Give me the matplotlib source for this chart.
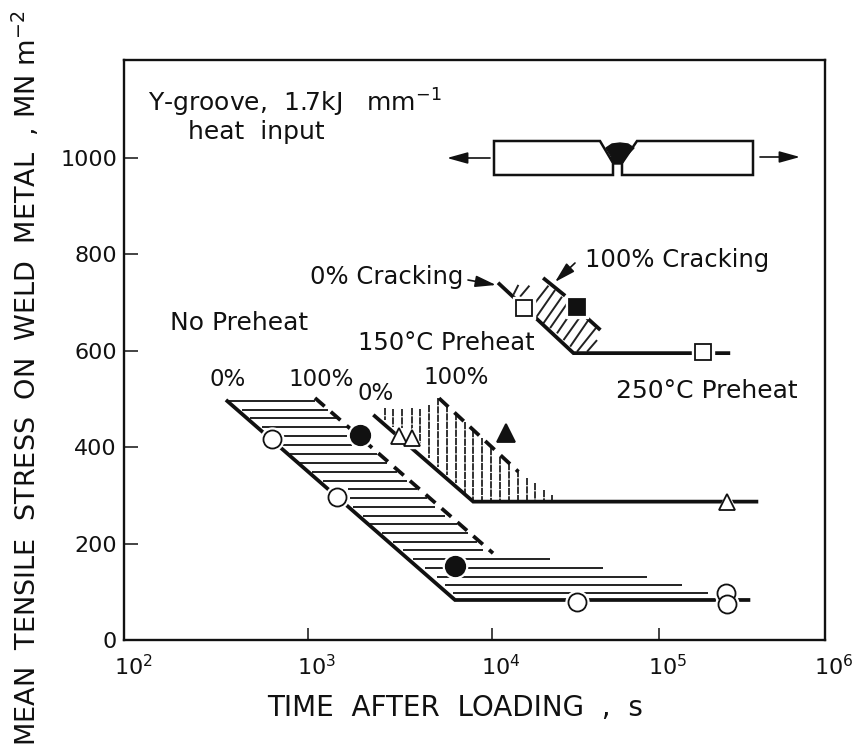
import numpy as np
import matplotlib
matplotlib.use('Agg')
from matplotlib import pyplot as plt
from matplotlib.transforms import Affine2D, ScaledTranslation
from matplotlib.patches import Polygon

# the printed decades are not equally wide, so the axis has its own spacing
decade_log = [2, 3, 4, 5, 6]
decade_pos = [0, 184, 368, 535, 701]
x_ticks = [1e2, 1e3, 1e4, 1e5, 1e6]
x_tick_labels = ['10$^{2}$', '10$^{3}$', '10$^{4}$', '10$^{5}$', '10$^{6}$']
y_ticks = [0, 200, 400, 600, 800, 1000]

# boundaries, log10(time) and stress
none_0_t = [2.554, 3.799, 5.550]
none_0_s = [498, 83, 83]
none_100_t = [3.038, 4.006]
none_100_s = [502, 180]
p150_0_t = [3.355, 3.898, 5.598]
p150_0_s = [467, 287, 287]
p150_100_t = [3.712, 4.158]
p150_100_s = [501.5, 349]
p250_0_t = [4.036, 4.488, 5.429]
p250_0_s = [741, 595, 595]
p250_100a_t = [4.306, 4.438]
p250_100a_s = [751, 714]
p250_100b_t = [4.569, 4.649]
p250_100b_s = [668, 643]

# horizontal hatching, no preheat
h_s = [496.5, 477, 460, 441, 423, 404, 386, 367, 349, 330.5, 313, 295, 276.5, 258, 240, 222.5, 204, 187,
       168, 150, 131, 114, 97]
h_t0 = [2.558, 2.640, 2.685, 2.748, 2.857, 2.857, 2.902, 2.957, 3.020, 3.083, 3.219, 3.228, 3.246, 3.301,
        3.337, 3.401, 3.464, 3.518, 3.572, 3.636, 3.700, 3.745, 3.788]
h_t1 = [3.038, 3.110, 3.156, 3.210, 3.210, 3.238, 3.373, 3.428, 3.482, 3.536, 3.591, 3.645, 3.690, 3.745,
        3.809, 3.870, 3.918, 3.952, 4.348, 4.667, 4.931, 5.141, 5.297]

# vertical hatching, 150 C
v_t = [3.418, 3.464, 3.513, 3.564, 3.609, 3.658, 3.708, 3.754, 3.803, 3.853, 3.898, 3.944, 3.995, 4.048,
       4.102, 4.154, 4.208, 4.258, 4.312, 4.362]
v_top = [480.7, 478.6, 478.6, 480.7, 478.6, 487.6, 501.4, 487.6, 470, 453, 435.7, 418, 397.7, 380, 366.5,
         352.7, 335.4, 325, 311, 301]
v_bot = [456.4, 441, 439, 435.7, 397.7, 377, 359.6, 342, 325, 304, 287, 287, 287, 287, 287, 287, 287, 287,
         287, 287]

# slanted hatching, 250 C
d_t0 = [4.128, 4.168, 4.248, 4.268, 4.308, 4.348, 4.389, 4.428, 4.468, 4.509, 4.569]
d_s0 = [716, 712, 695, 671, 657, 647, 636, 622, 608.5, 598, 598]
d_t1 = [4.158, 4.224, 4.338, 4.378, 4.419, 4.458, 4.458, 4.529, 4.578, 4.629, 4.629]
d_s1 = [736.5, 735, 735, 726, 712, 702, 671, 671, 664, 650, 622]

# test points
open_circle_t = [2.807, 3.158, 4.511, 5.404, 5.410]
open_circle_s = [417, 297, 79.5, 97.5, 75]
full_circle_t = [3.283, 3.799]
full_circle_s = [425, 154]
open_tri_t = [3.495, 3.564, 5.410]
open_tri_s = [423, 419, 287]
full_tri_t = [4.084]
full_tri_s = [429]
open_sq_t = [4.192, 5.267]
open_sq_s = [689, 597.5]
full_sq_t = [4.509]
full_sq_s = [691.5]

INK = '#111111'

plt.rcParams['font.family'] = 'DejaVu Sans'
plt.rcParams['mathtext.fontset'] = 'dejavusans'
plt.rcParams['mathtext.default'] = 'regular'

W, H = 862, 744
fig = plt.figure(figsize=(W / 100, H / 100), dpi=100)
ax = fig.add_axes([124 / W, 1 - 640 / H, 701 / W, 580 / H])
# pixel positions from the top left, for the sketch and the labels
px = Affine2D().scale(1 / W, -1 / H).translate(0, 1) + fig.transFigure


def fwd(t):
    return np.interp(np.log10(np.maximum(t, 1e-9)), decade_log, decade_pos)


def inv(p):
    return 10.0 ** np.interp(p, decade_pos, decade_log)


ax.set_xscale('function', functions=(fwd, inv))
ax.set_xlim(1e2, 1e6)
ax.set_ylim(0, 1203)


def T(v):
    return 10.0 ** np.array(v)


# hatching first, markers cut it with a white ring later
for s, t0, t1 in zip(h_s, h_t0, h_t1):
    ax.plot(T([t0, t1]), [s, s], color='#222222', lw=1.4, solid_capstyle='butt', zorder=2)
for t, s0, s1 in zip(v_t, v_top, v_bot):
    ax.plot(T([t, t]), [s0, s1], color='#222222', lw=1.3, ls=(0, (4, 0.6)), zorder=2)
for t0, s0, t1, s1 in zip(d_t0, d_s0, d_t1, d_s1):
    ax.plot(T([t0, t1]), [s0, s1], color='#222222', lw=1.4, solid_capstyle='butt', zorder=2)

for t, s in [(none_0_t, none_0_s), (p150_0_t, p150_0_s), (p250_0_t, p250_0_s)]:
    ax.plot(T(t), s, color=INK, lw=2.7, solid_capstyle='butt', solid_joinstyle='miter', zorder=3)
for t, s in [(none_100_t, none_100_s), (p150_100_t, p150_100_s)]:
    ax.plot(T(t), s, color=INK, lw=2.7, ls=(0, (3.4, 2.2)), dash_capstyle='butt', zorder=3)
for t, s in [(p250_100a_t, p250_100a_s), (p250_100b_t, p250_100b_s)]:
    ax.plot(T(t), s, color=INK, lw=2.7, solid_capstyle='butt', zorder=3)


def points(t, s, marker, size, filled):
    # white ring so the lines stop short of the symbol
    ax.plot(T(t), s, ls='none', marker=marker, ms=size + 3.5, mfc='white', mec='white', zorder=4)
    ax.plot(T(t), s, ls='none', marker=marker, ms=size, mfc=INK if filled else 'white', mec=INK, mew=1.3,
            zorder=5)


points(open_circle_t, open_circle_s, 'o', 13, False)
points(full_circle_t, full_circle_s, 'o', 14, True)
points(open_tri_t, open_tri_s, '^', 11.5, False)
points(full_tri_t, full_tri_s, '^', 13, True)
points(open_sq_t, open_sq_s, 's', 12, False)
points(full_sq_t, full_sq_s, 's', 12, True)

# axes
for sp in ax.spines.values():
    sp.set_linewidth(1.7)
    sp.set_color(INK)
ax.minorticks_off()
ax.set_xticks(x_ticks)
ax.set_xticklabels(x_tick_labels, fontsize=16, color=INK)
ax.set_yticks(y_ticks)
ax.set_yticklabels([str(v) for v in y_ticks], fontsize=16, color=INK)
ax.tick_params(axis='x', which='major', direction='in', length=9, width=1.1, pad=10, color=INK)
ax.tick_params(axis='y', which='major', direction='in', length=10, width=1.1, pad=5, color=INK)
ax.tick_params(axis='x', which='minor', length=0)
for lab in ax.get_xticklabels():
    lab.set_transform(lab.get_transform() + ScaledTranslation(9 / 100, 0, fig.dpi_scale_trans))

fig.text(455, 708, 'TIME  AFTER  LOADING  ,  s', transform=px, fontsize=20, ha='center', va='center', color=INK)
fig.text(26, 378, 'MEAN  TENSILE  STRESS  ON  WELD  METAL  , MN m$^{-2}$', transform=px, fontsize=19.5,
         rotation=90, ha='center', va='center', color=INK)

# labels inside the frame
labels = [
    (148, 103, 'Y-groove,  1.7kJ   mm$^{-1}$', 18),
    (188, 132, 'heat  input', 18),
    (310, 277, '0% Cracking', 17.5),
    (170, 323, 'No Preheat', 18),
    (358, 343, '150°C Preheat', 17.5),
    (585, 260, '100% Cracking', 17.5),
    (616, 391, '250°C Preheat', 18),
    (210, 380, '0%', 16.5),
    (288, 380, '100%', 16.5),
    (358, 393, '0%', 16.5),
    (423, 377, '100%', 16.5),
]
for x, y, s, size in labels:
    fig.text(x, y, s, transform=px, fontsize=size, ha='left', va='center', color=INK)

# welded specimen sketch
left_block = [(494, 141), (600, 141), (613, 163), (613, 175), (494, 175)]
right_block = [(753, 141), (637, 141), (622, 163), (622, 175), (753, 175)]
for pts in (left_block, right_block):
    fig.add_artist(Polygon(pts, closed=True, fc='white', ec=INK, lw=1.8, transform=px))
weld = [(606, 148), (612, 144), (620, 143), (628, 144), (634, 148), (626, 156), (622, 164), (613, 164), (611, 156)]
fig.add_artist(Polygon(weld, closed=True, fc=INK, ec=INK, transform=px))


def arrow(x0, y0, x1, y1, lw=1.2):
    ax.annotate('', xy=(x1, y1), xytext=(x0, y0), xycoords=px, textcoords=px, annotation_clip=False,
                arrowprops=dict(arrowstyle='-|>,head_length=0.9,head_width=0.25', color=INK, lw=lw,
                                shrinkA=0, shrinkB=0, mutation_scale=14), zorder=6)


arrow(490, 158, 447, 158)
arrow(760, 157, 800, 157)
arrow(468, 280, 496, 285)
arrow(575, 263, 555, 282)

fig.savefig('out.png', dpi=100)
